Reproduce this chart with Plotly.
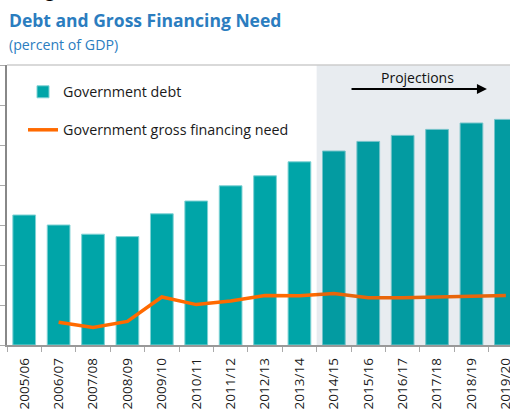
import plotly.graph_objects as go

# data (percent of GDP)
years = ["2005/06", "2006/07", "2007/08", "2008/09", "2009/10", "2010/11",
         "2011/12", "2012/13", "2013/14", "2014/15", "2015/16", "2016/17",
         "2017/18", "2018/19", "2019/20"]
gov_debt = [32.5, 30.0, 27.7, 27.1, 32.8, 36.0, 39.8, 42.3, 45.8,
            48.5, 50.9, 52.4, 53.9, 55.5, 56.4]
gross_fin_need = [None, 5.7, 4.4, 5.9, 12.0, 10.1, 11.0, 12.4, 12.3,
                  12.9, 11.8, 11.8, 12.0, 12.3, 12.4]
first_projection = "2014/15"

TEAL = "#00a5a8"
ORANGE = "#ff6a00"
BLUE = "#2b7dbf"
FONT = "Open Sans"

fig = go.Figure()
fig.add_trace(go.Bar(
    x=years, y=gov_debt, name="Government debt",
    marker=dict(color=TEAL, line=dict(color="#7fd2d4", width=1)),
    legend="legend", showlegend=True,
))
fig.add_trace(go.Scatter(
    x=years, y=gross_fin_need, name="Government gross financing need",
    mode="lines", line=dict(color=ORANGE, width=3.5),
    legend="legend2", showlegend=True,
))

# shaded projections area
proj_start = years.index(first_projection) - 0.5
fig.add_shape(type="rect", xref="x", yref="paper", x0=proj_start, x1=len(years),
              y0=0, y1=1, fillcolor="rgba(30,70,110,0.1)", line_width=0,
              layer="above")
# light top border
fig.add_shape(type="line", xref="paper", yref="paper", x0=0, x1=1, y0=1, y1=1,
              line=dict(color="#cccccc", width=1.5))

# projections arrow + label
fig.add_annotation(x=13.45, y=64, ax=9.47, ay=64, axref="x", ayref="y",
                   xref="x", yref="y", text="", showarrow=True,
                   arrowhead=2, arrowsize=1, arrowwidth=2, arrowcolor="black")
fig.add_annotation(x=11.42, y=66.8, xref="x", yref="y", text="Projections",
                   showarrow=False, font=dict(size=14, color="#111111"))

# titles
fig.add_annotation(x=0, y=(345 - 20) / 280, xref="paper", yref="paper",
                   xanchor="left", yanchor="middle", showarrow=False,
                   text="<b>Debt and Gross Financing Need</b>",
                   font=dict(size=17.5, color=BLUE, family=FONT))
fig.add_annotation(x=0, y=(345 - 44) / 280, xref="paper", yref="paper",
                   xanchor="left", yanchor="middle", showarrow=False,
                   text="(percent of GDP)",
                   font=dict(size=14.2, color=BLUE, family=FONT))
# descender of the cut-off line above the title
fig.add_annotation(x=36 / 503, y=(345 - 4) / 280, xref="paper", yref="paper",
                   xanchor="left", yanchor="bottom", showarrow=False,
                   text="g", font=dict(size=18, color="black", family=FONT))

legend_style = dict(bgcolor="rgba(0,0,0,0)", font=dict(size=14.3, color="#1a1a1a"),
                    xanchor="left", yanchor="middle", itemclick=False)

fig.update_layout(
    width=510, height=417,
    margin=dict(l=7, r=0, t=65, b=72),
    paper_bgcolor="white", plot_bgcolor="white",
    font=dict(family=FONT, color="#1a1a1a"),
    bargap=0.34,
    legend=dict(x=16 / 503, y=(345 - 92) / 280, **legend_style),
    legend2=dict(x=16 / 503, y=(345 - 130) / 280, **legend_style),
    xaxis=dict(
        range=[-0.5, 14.12], tickangle=-90, tickson="boundaries",
        ticks="outside", ticklen=5, tickcolor="#aaaaaa",
        showline=True, linecolor="#999999", linewidth=1.5,
        tickfont=dict(size=13.5, color="#1a1a1a"), showgrid=False,
        automargin=False, ticklabeloverflow="allow", ticklabelstandoff=6,
    ),
    yaxis=dict(
        range=[0, 70], dtick=10, showticklabels=False,
        ticks="outside", ticklen=5, tickcolor="#aaaaaa",
        showline=True, linecolor="#888888", linewidth=1.5,
        showgrid=False, zeroline=False, automargin=False,
    ),
)

fig.write_html("out.html", config={"displayModeBar": False},
               post_script="document.body.style.margin = '0';")
